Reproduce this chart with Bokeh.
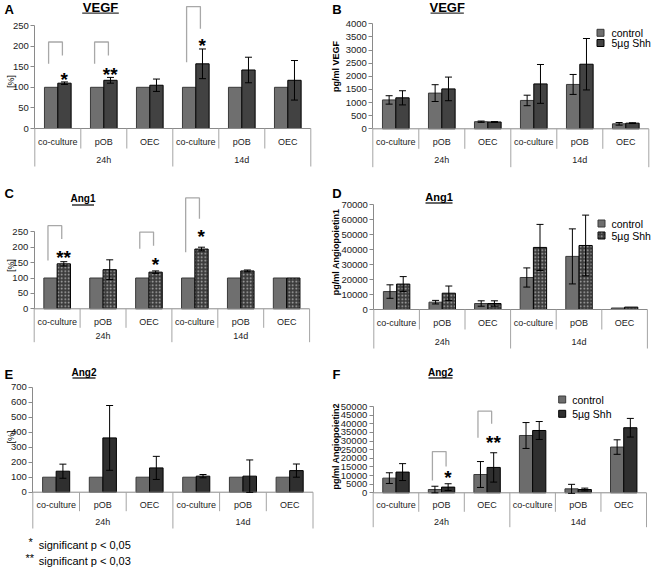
import math
from bokeh.plotting import figure
from bokeh.models import (Range1d, ColumnDataSource, Whisker, TeeHead, Label, FixedTicker)
from bokeh.core.properties import value
from bokeh.layouts import column, row
from bokeh.embed import file_html
from bokeh.resources import INLINE

FONT = "Liberation Sans"

# ---------------- data ----------------
groups = ["24h", "14d"]
cells = ["co-culture", "pOB", "OEC"]
factors = [(g, c) for g in groups for c in cells]
series_names = ["control", "5µg Shh"]

# A: VEGF [%]
vegf_pct_ctrl = [100, 100, 100, 100, 100, 100]
vegf_pct_shh = [110, 117, 105, 157, 142, 117]
vegf_pct_shh_err = [3, 7, 15, 36, 31, 48]
vegf_pct_ticks = [0, 50, 100, 150, 200, 250]
vegf_pct_sig_at = [("24h", "co-culture"), ("24h", "pOB"), ("14d", "co-culture")]
vegf_pct_sig_top = [210, 210, 296]
vegf_pct_sig_left = [157, 157, 161]
vegf_pct_sig_right = [177, 177, 242]
vegf_pct_sig_mark_y = [129, 141, 210]
vegf_pct_sig_mark = ["*", "**", "*"]

# B: VEGF pg/ml
vegf_ctrl = [1100, 1360, 270, 1080, 1690, 190]
vegf_ctrl_err = [160, 320, 25, 200, 380, 50]
vegf_shh = [1180, 1520, 260, 1710, 2460, 215]
vegf_shh_err = [270, 450, 15, 740, 980, 15]
vegf_ticks = [0, 500, 1000, 1500, 2000, 2500, 3000, 3500, 4000]

# C: Ang1 [%]
ang1_pct_ctrl = [100, 100, 100, 100, 100, 100]
ang1_pct_shh = [146, 127, 119, 194, 123, 100]
ang1_pct_shh_err = [7, 32, 4, 6, 3, 0]
ang1_pct_ticks = [0, 50, 100, 150, 200, 250]
ang1_pct_sig_at = [("24h", "co-culture"), ("24h", "OEC"), ("14d", "co-culture")]
ang1_pct_sig_top = [270, 249, 360]
ang1_pct_sig_left = [157, 195, 184]
ang1_pct_sig_right = [227, 205, 292]
ang1_pct_sig_mark_y = [180, 157, 249]
ang1_pct_sig_mark = ["**", "*", "*"]

# D: Ang1 pg/ml
ang1_ctrl = [12000, 4900, 4000, 21400, 35500, 1000]
ang1_ctrl_err = [4500, 1200, 1800, 6400, 18400, 0]
ang1_shh = [17000, 10900, 4000, 41500, 42800, 1600]
ang1_shh_err = [5000, 4800, 1800, 15400, 20300, 0]
ang1_ticks = [0, 10000, 20000, 30000, 40000, 50000, 60000, 70000]

# E: Ang2 [%]
ang2_pct_ctrl = [100, 100, 100, 100, 100, 100]
ang2_pct_shh = [140, 362, 162, 107, 107, 144]
ang2_pct_shh_err = [47, 216, 77, 11, 108, 44]
ang2_pct_ticks = [0, 100, 200, 300, 400, 500, 600, 700]

# F: Ang2 pg/ml
ang2_ctrl = [8500, 1900, 10600, 33200, 2300, 26500]
ang2_ctrl_err = [3100, 1900, 7500, 7500, 2600, 4200]
ang2_shh = [12000, 3300, 14700, 36100, 1900, 37700]
ang2_shh_err = [4900, 1950, 8500, 5200, 800, 5400]
ang2_ticks = [0, 5000, 10000, 15000, 20000, 25000, 30000, 35000, 40000, 45000, 50000]
ang2_sig_at = [("24h", "pOB"), ("24h", "OEC")]
ang2_sig_top = [23900, 47300]
ang2_sig_left = [7100, 31900]
ang2_sig_right = [15200, 40000]
ang2_sig_mark_y = [11400, 31300]
ang2_sig_mark = ["*", "**"]

footnotes = [("*", "significant p < 0,05"), ("**", "significant p < 0,03")]

# ---------------- helpers ----------------
GRAY_AX = "#8a8a8a"
SEP = "#a4a4a4"
BAR_HALF = 0.145
BAR_W = 0.29

# category slot positions on the x scale (one unit per category)
cat_pos = [i + 0.5 for i in range(len(factors))]
grp_pos = [sum(cat_pos[i] for i, f in enumerate(factors) if f[0] == g) / len(cells) for g in groups]


def add_label(p, s, x_rel, y_rel, text, size, bold=False, angle=0.0,
              align="left", baseline="middle", color="black"):
    p.add_layout(Label(x=x_rel, y=s["H"] - y_rel, x_units="screen", y_units="screen",
                       text=text, text_font=FONT, text_font_size=size,
                       text_font_style="bold" if bold else "normal", angle=angle,
                       text_align=align, text_baseline=baseline, text_color=color))


def make_panel(s):
    W, H, ax, c = s["W"], s["H"], s["ax"], s["cat"]
    y0, k = s["y0"], s["k"]
    p = figure(width=W, height=H,
               x_range=Range1d(-ax / c, (W - ax) / c),
               y_range=Range1d(-(H - y0) / k, y0 / k),
               x_axis_location=None, toolbar_location=None, output_backend="svg",
               min_border_left=0, min_border_right=0, min_border_top=0, min_border_bottom=0,
               outline_line_color=None, background_fill_color="white", border_fill_color="white")
    p.extra_y_ranges = {"px": Range1d(-(H - y0), y0)}
    p.grid.visible = False

    def xu(x_rel):  # panel pixel -> x units
        return (x_rel - ax) / c

    yaxis = p.yaxis[0]
    yaxis.fixed_location = 0
    yaxis.ticker = FixedTicker(ticks=s["ticks"])
    yaxis.bounds = (0, s["ticks"][-1])
    yaxis.axis_line_color = GRAY_AX
    yaxis.major_tick_line_color = GRAY_AX
    yaxis.major_tick_out = 4
    yaxis.major_tick_in = 0
    yaxis.minor_tick_line_color = None
    yaxis.major_label_text_font = FONT
    yaxis.major_label_text_font_size = "9.5px"
    yaxis.major_label_text_color = "#222222"
    yaxis.major_label_standoff = 2

    # bars
    src = ColumnDataSource(dict(xc=[x - BAR_HALF for x in cat_pos], xs=[x + BAR_HALF for x in cat_pos],
                                ctrl=s["ctrl"], shh=s["shh"]))
    p.vbar(x="xc", top="ctrl", width=BAR_W, source=src,
           fill_color=s["c_ctrl"], line_color="#3a3a3a", line_width=1)
    hatch = s.get("hatch")
    hk = dict(hatch_pattern=hatch, hatch_color="#b4b4b4", hatch_scale=3.5, hatch_weight=1.2) if hatch else {}
    p.vbar(x="xs", top="shh", width=BAR_W, source=src,
           fill_color=s["c_shh"], line_color="black", line_width=1, **hk)

    # error bars
    for vals, errs, off in ((s["shh"], s["shh_err"], BAR_HALF), (s["ctrl"], s.get("ctrl_err"), -BAR_HALF)):
        if errs is None:
            continue
        rows = [i for i in range(len(vals)) if errs[i] > 0]
        esrc = ColumnDataSource(dict(x=[cat_pos[i] + off for i in rows],
                                     lo=[vals[i] - errs[i] for i in rows],
                                     hi=[vals[i] + errs[i] for i in rows]))
        w = Whisker(source=esrc, base="x", upper="hi", lower="lo",
                    line_color="black", line_width=1, level="annotation",
                    upper_head=TeeHead(size=7, line_color="black", line_width=1),
                    lower_head=TeeHead(size=7, line_color="black", line_width=1))
        p.add_layout(w)

    # category axis (line, separators, labels)
    n = len(factors)
    p.segment(x0=[0], x1=[n], y0=[0], y1=[0], line_color=GRAY_AX, line_width=1)
    bx = [x - 0.5 for x in cat_pos] + [cat_pos[-1] + 0.5]
    lens = [s["long"] if i % len(cells) == 0 else s["short"] for i in range(n + 1)]
    p.segment(x0=bx, x1=bx, y0=[0] * (n + 1), y1=[-l for l in lens], y_range_name="px",
              line_color=SEP, line_width=1)
    p.text(x=cat_pos, y=[-s["cat_off"]] * n, text=[cc for g, cc in factors], y_range_name="px",
           text_font=value(FONT), text_font_size="9px", text_align="center",
           text_baseline="middle", text_color="#222222")
    p.text(x=grp_pos, y=[-s["grp_off"]] * len(groups), text=groups, y_range_name="px",
           text_font=value(FONT), text_font_size="9px", text_align="center",
           text_baseline="middle", text_color="#222222")

    # significance brackets
    if s.get("sig_at"):
        xs, ys, mx = [], [], []
        for f, t, l, r in zip(s["sig_at"], s["sig_top"], s["sig_left"], s["sig_right"]):
            cx = cat_pos[factors.index(f)]
            xs.append([cx - 0.2, cx - 0.2, cx + 0.1, cx + 0.1])
            ys.append([l, t, t, r])
            mx.append(cx + 0.14)
        p.multi_line(xs=xs, ys=ys, line_color="#a8a8a8", line_width=1.3)
        p.text(x=mx, y=s["sig_mark_y"], text=s["sig_mark"],
               text_font=value(FONT), text_font_size="19px", text_font_style="bold",
               text_align="center", text_baseline="middle", y_offset=4, text_color="black")

    # title with underline, panel letter, y label
    tx, ty, tsize, tw = s["title_pos"]
    add_label(p, s, tx, ty, s["title"], tsize, bold=True, align="center")
    p.segment(x0=[xu(tx - tw / 2)], x1=[xu(tx + tw / 2)], y0=[y0 - s["ul_y"]], y1=[y0 - s["ul_y"]],
              y_range_name="px", line_color="#333333", line_width=1.3)
    lx, ly = s["letter_pos"]
    add_label(p, s, lx, ly, s["letter"], "13px", bold=True)
    yx, yy = s["ylab_pos"]
    add_label(p, s, yx, yy, s["ylabel"], "9px", bold=s["ylab_bold"], angle=math.pi / 2,
              align="center")

    # legend
    if s.get("legend_pos"):
        gx, gy1, gy2, tx2 = s["legend_pos"]
        kw = dict(hatch_pattern=["blank", hatch], hatch_color="#b4b4b4", hatch_scale=3.5,
                  hatch_weight=1.2) if hatch else {}
        p.rect(x=[xu(gx)] * 2, y=[y0 - gy1, y0 - gy2], width=7 / c, height=7,
               fill_color=[s["c_ctrl"], s["c_shh"]], line_color=["#3a3a3a", "black"],
               y_range_name="px", **kw)
        add_label(p, s, tx2, gy1, series_names[0], "10.5px")
        add_label(p, s, tx2, gy2, series_names[1], "10.5px")
    return p


C_CTRL = "#6f6f6f"
C_SHH = "#424242"

# panel geometry (pixels inside each panel): rows 0-185, 185-365, 365-567; columns 0-330, 330-652
specA = dict(W=330, H=185, ax=34.3, cat=46, y0=128, k=103 / 250, ticks=vegf_pct_ticks,
             ctrl=vegf_pct_ctrl, shh=vegf_pct_shh, shh_err=vegf_pct_shh_err, ctrl_err=None,
             c_ctrl=C_CTRL, c_shh=C_SHH, cat_off=13, grp_off=31, short=20, long=38,
             sig_at=vegf_pct_sig_at, sig_top=vegf_pct_sig_top, sig_left=vegf_pct_sig_left,
             sig_right=vegf_pct_sig_right, sig_mark_y=vegf_pct_sig_mark_y, sig_mark=vegf_pct_sig_mark,
             title="VEGF", title_pos=(100, 7, "13px", 36.6), ul_y=12.6,
             letter="A", letter_pos=(4, 9), ylabel="[%]", ylab_pos=(10.8, 81), ylab_bold=False)

specB = dict(W=322, H=185, ax=42.3, cat=46, y0=128.3, k=105 / 4000, ticks=vegf_ticks,
             ctrl=vegf_ctrl, shh=vegf_shh, shh_err=vegf_shh_err, ctrl_err=vegf_ctrl_err,
             c_ctrl=C_CTRL, c_shh=C_SHH, cat_off=12.7, grp_off=31, short=20, long=38.4,
             title="VEGF", title_pos=(116.7, 7, "13px", 33.3), ul_y=12.6,
             letter="B", letter_pos=(1.7, 8.5), ylabel="pg/ml VEGF", ylab_pos=(5.3, 66), ylab_bold=True,
             legend_pos=(270, 32.3, 42.5, 281))

specC = dict(W=330, H=180, ax=33.7, cat=45.9, y0=123.3, k=77 / 250, ticks=ang1_pct_ticks,
             ctrl=ang1_pct_ctrl, shh=ang1_pct_shh, shh_err=ang1_pct_shh_err, ctrl_err=None,
             c_ctrl=C_CTRL, c_shh="#3c3c3c", hatch="dot", cat_off=13.4, grp_off=26.7, short=19, long=33.4,
             sig_at=ang1_pct_sig_at, sig_top=ang1_pct_sig_top, sig_left=ang1_pct_sig_left,
             sig_right=ang1_pct_sig_right, sig_mark_y=ang1_pct_sig_mark_y, sig_mark=ang1_pct_sig_mark,
             title="Ang1", title_pos=(82.5, 12.5, "10px", 22), ul_y=19.5,
             letter="C", letter_pos=(4, 7.5), ylabel="[%]", ylab_pos=(10.8, 80), ylab_bold=False)

specD = dict(W=322, H=180, ax=43.3, cat=45.6, y0=124, k=104.7 / 70000, ticks=ang1_ticks,
             ctrl=ang1_ctrl, shh=ang1_shh, shh_err=ang1_shh_err, ctrl_err=ang1_ctrl_err,
             c_ctrl=C_CTRL, c_shh="#3c3c3c", hatch="dot", cat_off=13.3, grp_off=32.7, short=20, long=39,
             title="Ang1", title_pos=(108.5, 11, "11px", 27), ul_y=17.5,
             letter="D", letter_pos=(1.7, 7.5), ylabel="pg/ml Angiopoietin1", ylab_pos=(5.3, 66.5),
             ylab_bold=True, legend_pos=(271, 38, 50, 281))

specE = dict(W=330, H=202, ax=32.3, cat=46.7, y0=126.7, k=105 / 700, ticks=ang2_pct_ticks,
             ctrl=ang2_pct_ctrl, shh=ang2_pct_shh, shh_err=ang2_pct_shh_err, ctrl_err=None,
             c_ctrl="#6c6c6c", c_shh="#2f2f2f", cat_off=12.6, grp_off=30, short=19, long=36.3,
             title="Ang2", title_pos=(83.5, 6.5, "10px", 23), ul_y=12.5,
             letter="E", letter_pos=(4, 9), ylabel="[%]", ylab_pos=(10.8, 71.5), ylab_bold=False)

specF = dict(W=322, H=202, ax=42.7, cat=45.55, y0=127.3, k=86.3 / 50000, ticks=ang2_ticks,
             ctrl=ang2_ctrl, shh=ang2_shh, shh_err=ang2_shh_err, ctrl_err=ang2_ctrl_err,
             c_ctrl="#6c6c6c", c_shh="#2f2f2f", cat_off=12, grp_off=28.7, short=19, long=34.4,
             sig_at=ang2_sig_at, sig_top=ang2_sig_top, sig_left=ang2_sig_left,
             sig_right=ang2_sig_right, sig_mark_y=ang2_sig_mark_y, sig_mark=ang2_sig_mark,
             title="Ang2", title_pos=(110, 6.5, "10px", 24), ul_y=12.5,
             letter="F", letter_pos=(2, 9), ylabel="pg/ml Angiopoietin2", ylab_pos=(5.3, 80.8),
             ylab_bold=True, legend_pos=(231.7, 34, 48.3, 241.7))

pA = make_panel(specA)
pB = make_panel(specB)
pC = make_panel(specC)
pD = make_panel(specD)
pE = make_panel(specE)
pF = make_panel(specF)

# footnotes under panel E
for (mark, txt), (mx, yy) in zip(footnotes, [(28, 179), (25, 195.5)]):
    add_label(pE, specE, mx, yy - 3, mark, "11px")
    add_label(pE, specE, 38.3, yy, txt, "11px")

layout = column(row(pA, pB), row(pC, pD), row(pE, pF))

with open("out.html", "w") as f:
    f.write(file_html(layout, INLINE))
